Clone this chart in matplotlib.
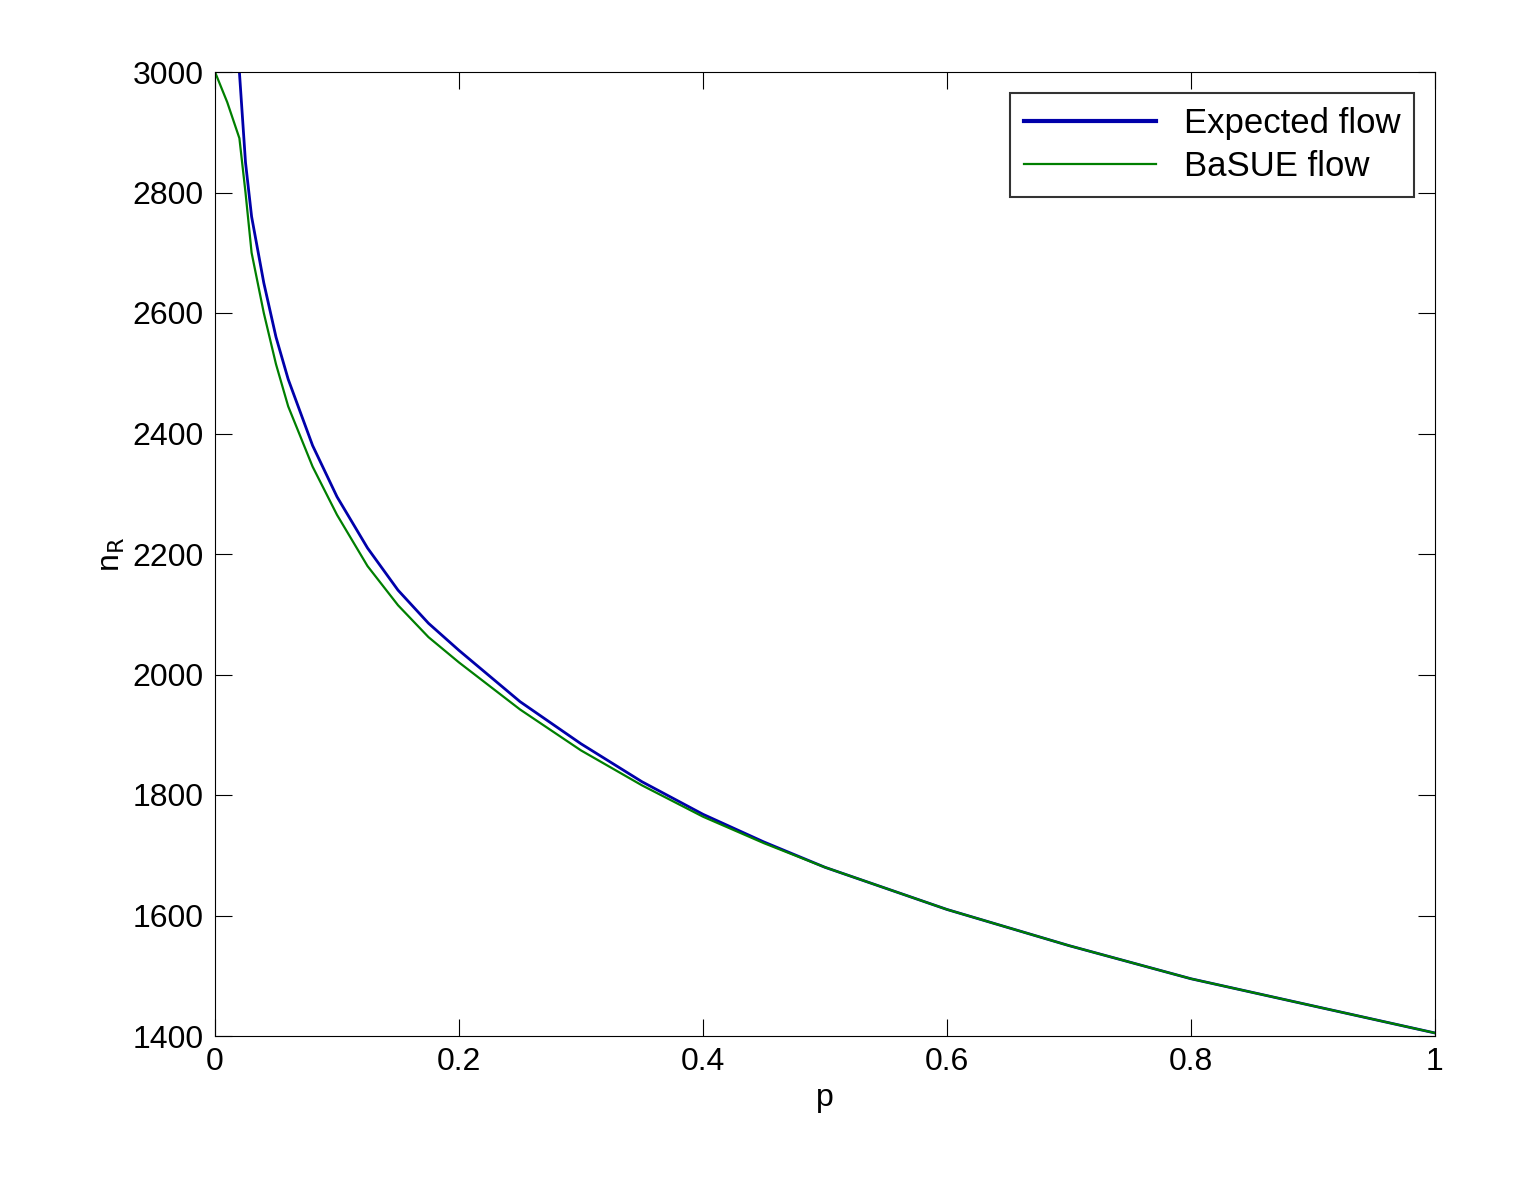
import matplotlib
matplotlib.use('Agg')
matplotlib.rcParams['font.family'] = ['Liberation Sans', 'DejaVu Sans']
import matplotlib.pyplot as plt

p_exp = [0.02, 0.025, 0.03, 0.04, 0.05, 0.06, 0.08, 0.1, 0.125, 0.15, 0.175, 0.2, 0.25, 0.3,
         0.35, 0.4, 0.45, 0.5, 0.6, 0.7, 0.8, 0.9, 1.0]
n_exp = [3000, 2850, 2760, 2650, 2560, 2490, 2380, 2295, 2210, 2140, 2085, 2040, 1955, 1885,
         1822, 1768, 1722, 1680, 1610, 1550, 1495, 1450, 1405]

p_bas = [0.0, 0.01, 0.02, 0.025, 0.03, 0.04, 0.05, 0.06, 0.08, 0.1, 0.125, 0.15, 0.175, 0.2,
         0.25, 0.3, 0.35, 0.4, 0.45, 0.5, 0.6, 0.7, 0.8, 0.9, 1.0]
n_bas = [3000, 2950, 2890, 2800, 2700, 2600, 2515, 2445, 2345, 2265, 2180, 2115, 2062, 2020,
         1942, 1874, 1816, 1764, 1720, 1680, 1610, 1550, 1495, 1450, 1405]

fig = plt.figure(figsize=(15.24, 11.85), dpi=100)
ax = fig.add_axes([215/1524, 1-1036/1185, 1220/1524, 964/1185])
ax.plot(p_exp, n_exp, color='#0000aa', lw=2.0, label='Expected flow')
ax.plot(p_bas, n_bas, color='#007f00', lw=1.6, label='BaSUE flow')
ax.set_xlim(0, 1)
ax.set_ylim(1400, 3000)
ax.set_xticks([0, 0.2, 0.4, 0.6, 0.8, 1])
ax.set_xticklabels(['0', '0.2', '0.4', '0.6', '0.8', '1'])
ax.set_yticks(range(1400, 3001, 200))
ax.tick_params(direction='in', top=True, right=True, length=12, labelsize=23, pad=8)
ax.set_xlabel('p', fontsize=23)
ax.set_ylabel(r'n$_\mathrm{R}$', fontsize=23)
leg = ax.legend(loc='upper right', fontsize=25, fancybox=False, edgecolor='black',
                borderaxespad=0.6, handlelength=3.8, borderpad=0.4, labelspacing=0.3)
leg.get_frame().set_linewidth(1.5)
leg.get_lines()[0].set_linewidth(3)
fig.savefig('out.png', dpi=100)
